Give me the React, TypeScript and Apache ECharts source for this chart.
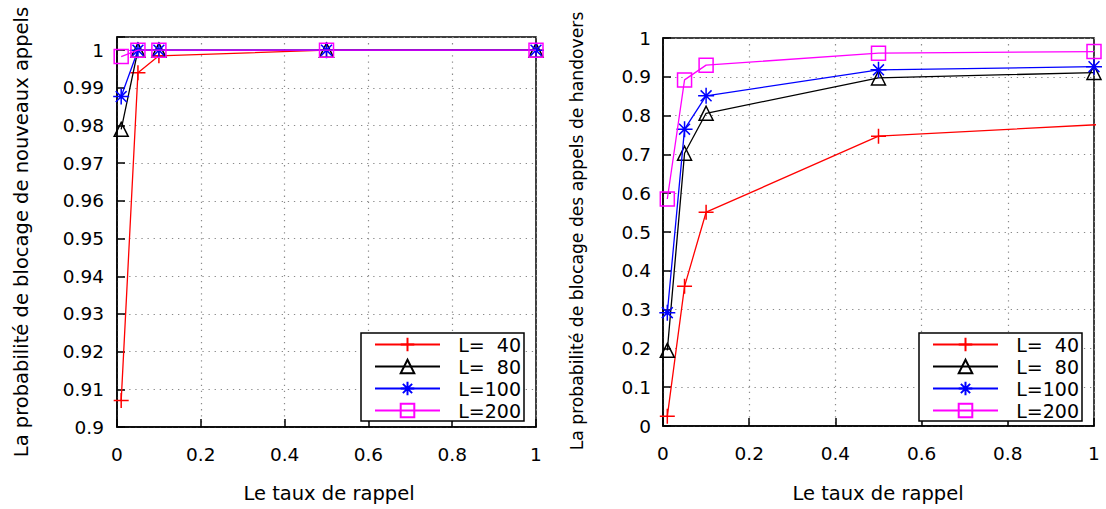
import React, { useEffect, useRef } from 'react';
import * as echarts from 'echarts';

const FONT = '"DejaVu Sans", Verdana, sans-serif';

const seriesNames = ['L=  40', 'L=  80', 'L=100', 'L=200'];
const seriesColors = ['#ff0000', '#000000', '#0000ff', '#ff00ff'];
const seriesSymbols = [
  'path://M0,5L10,5M5,0L5,10',
  'path://M5,0L10,9L0,9Z',
  'path://M5,0L5,10M0,5L10,5M1.6,1.6L8.4,8.4M8.4,1.6L1.6,8.4',
  'path://M0,0L10,0L10,10L0,10Z',
];
const seriesSymbolSizes = [15, 14, 16, 14];

// Le taux de rappel
const rates = [0.01, 0.05, 0.1, 0.5, 1];
const ratesHandoverL40 = [0.01, 0.05, 0.1, 0.5, 1.015];

// Probabilité de blocage de nouveaux appels
const newCallL40 = [0.907, 0.994, 0.9985, 1, 1];
const newCallL80 = [0.979, 1, 1, 1, 1];
const newCallL100 = [0.9877, 1, 1, 1, 1];
const newCallL200 = [0.9983, 1, 1, 1, 1];

// Probabilité de blocage des appels de handovers
const handoverL40 = [0.025, 0.36, 0.551, 0.747, 0.777];
const handoverL80 = [0.195, 0.703, 0.806, 0.897, 0.911];
const handoverL100 = [0.292, 0.765, 0.851, 0.918, 0.926];
const handoverL200 = [0.585, 0.892, 0.93, 0.961, 0.965];

const xTitle = 'Le taux de rappel';
const yTitleLeft = 'La probabilité de blocage de nouveaux appels';
const yTitleRight = 'La probabilité de blocage des appels de handovers';

function makeSeries(i: number, xs: number[], ys: number[], axisIdx: number, hideLast = false) {
  const c = seriesColors[i];
  return {
    type: 'line',
    name: seriesNames[i],
    xAxisIndex: axisIdx,
    yAxisIndex: axisIdx,
    data: xs.map((x, k) =>
      hideLast && k === xs.length - 1
        ? { value: [x, ys[k]], symbol: 'none' }
        : [x, ys[k]]
    ),
    symbol: seriesSymbols[i],
    symbolSize: seriesSymbolSizes[i],
    clip: false,
    lineStyle: { color: c, width: 1.3 },
    itemStyle: { color: 'rgba(0,0,0,0)', borderColor: c, borderWidth: 1.5 },
    emphasis: { disabled: true },
    z: 3 + i,
  };
}

const splitLineStyle = { lineStyle: { color: '#8a8a8a', width: 1.2, type: [1.3, 4.8] } };

function xAxis(gridIndex: number) {
  return {
    type: 'value',
    gridIndex,
    min: 0,
    max: 1,
    interval: 0.2,
    axisLine: { show: true, lineStyle: { color: '#000', width: 1.5 } },
    axisTick: { show: true, inside: true, length: 8, lineStyle: { color: '#000', width: 1.5 } },
    axisLabel: {
      margin: 18,
      fontFamily: FONT,
      fontSize: 18.5,
      color: '#000',
      formatter: (v: number) => String(+v.toFixed(1)),
    },
    splitLine: { show: true, ...splitLineStyle },
  };
}

function legend(left: number) {
  return {
    left,
    top: 333,
    orient: 'vertical',
    data: seriesNames,
    itemWidth: 65,
    itemHeight: 17,
    itemGap: 3,
    padding: [2, 3, 1, 13],
    borderColor: '#000',
    borderWidth: 1.5,
    backgroundColor: '#fff',
    selectedMode: false,
    formatter: (n: string) => `{a|${n}}`,
    textStyle: {
      fontFamily: FONT,
      fontSize: 19,
      color: '#000',
      rich: { a: { width: 76, align: 'right', fontFamily: FONT, fontSize: 19, lineHeight: 18, color: '#000' } },
    },
  };
}

export default function App() {
  const ref = useRef<HTMLDivElement>(null);
  useEffect(() => {
    document.body.style.margin = '0';
    const chart = echarts.init(ref.current!, undefined, { renderer: 'svg' });
    const gridBase = { show: true, borderColor: '#000', borderWidth: 1.5, backgroundColor: 'transparent', containLabel: false };
    chart.setOption({
      animation: false,
      backgroundColor: '#fff',
      textStyle: { fontFamily: FONT },
      grid: [
        { ...gridBase, left: 117, top: 37, width: 419, height: 390 },
        { ...gridBase, left: 663, top: 38, width: 431, height: 388 },
      ],
      xAxis: [xAxis(0), xAxis(1)],
      yAxis: [
        {
          type: 'value',
          gridIndex: 0,
          min: 0.9,
          max: 1.0035,
          interval: 0.01,
          axisLine: { show: true, lineStyle: { color: '#000', width: 1.5 } },
          axisTick: { show: true, inside: true, length: 8, lineStyle: { color: '#000', width: 1.5 } },
          axisLabel: {
            margin: 13,
            fontFamily: FONT,
            fontSize: 18.5,
            color: '#000',
            formatter: (v: number) =>
              Math.abs(v * 100 - Math.round(v * 100)) > 1e-6 ? '' : String(+v.toFixed(2)),
          },
          splitLine: { show: true, ...splitLineStyle },
        },
        {
          type: 'value',
          gridIndex: 1,
          min: 0,
          max: 1,
          interval: 0.1,
          axisLine: { show: true, lineStyle: { color: '#000', width: 1.5 } },
          axisTick: { show: true, inside: true, length: 8, lineStyle: { color: '#000', width: 1.5 } },
          axisLabel: {
            margin: 12,
            fontFamily: FONT,
            fontSize: 18.5,
            color: '#000',
            formatter: (v: number) => String(+v.toFixed(1)),
          },
          splitLine: { show: true, ...splitLineStyle },
        },
      ],
      legend: [legend(361), legend(919)],
      series: [
        makeSeries(0, rates, newCallL40, 0),
        makeSeries(1, rates, newCallL80, 0),
        makeSeries(2, rates, newCallL100, 0),
        makeSeries(3, rates, newCallL200, 0),
        makeSeries(0, ratesHandoverL40, handoverL40, 1, true),
        makeSeries(1, rates, handoverL80, 1),
        makeSeries(2, rates, handoverL100, 1),
        makeSeries(3, rates, handoverL200, 1),
      ],
      graphic: [
        {
          type: 'text', x: 329, y: 493,
          style: { text: xTitle, fontFamily: FONT, fontSize: 19.5, fill: '#000', align: 'center', verticalAlign: 'middle' },
        },
        {
          type: 'text', x: 878, y: 493,
          style: { text: xTitle, fontFamily: FONT, fontSize: 19.5, fill: '#000', align: 'center', verticalAlign: 'middle' },
        },
        {
          type: 'text', x: 21, y: 232, rotation: Math.PI / 2,
          style: { text: yTitleLeft, fontFamily: FONT, fontSize: 19.5, fill: '#000', align: 'center', verticalAlign: 'middle' },
        },
        {
          type: 'text', x: 577, y: 231, rotation: Math.PI / 2,
          style: { text: yTitleRight, fontFamily: FONT, fontSize: 17.2, fill: '#000', align: 'center', verticalAlign: 'middle' },
        },
      ],
    });
    return () => chart.dispose();
  }, []);
  return <div ref={ref} style={{ width: 1106, height: 509 }} />;
}
